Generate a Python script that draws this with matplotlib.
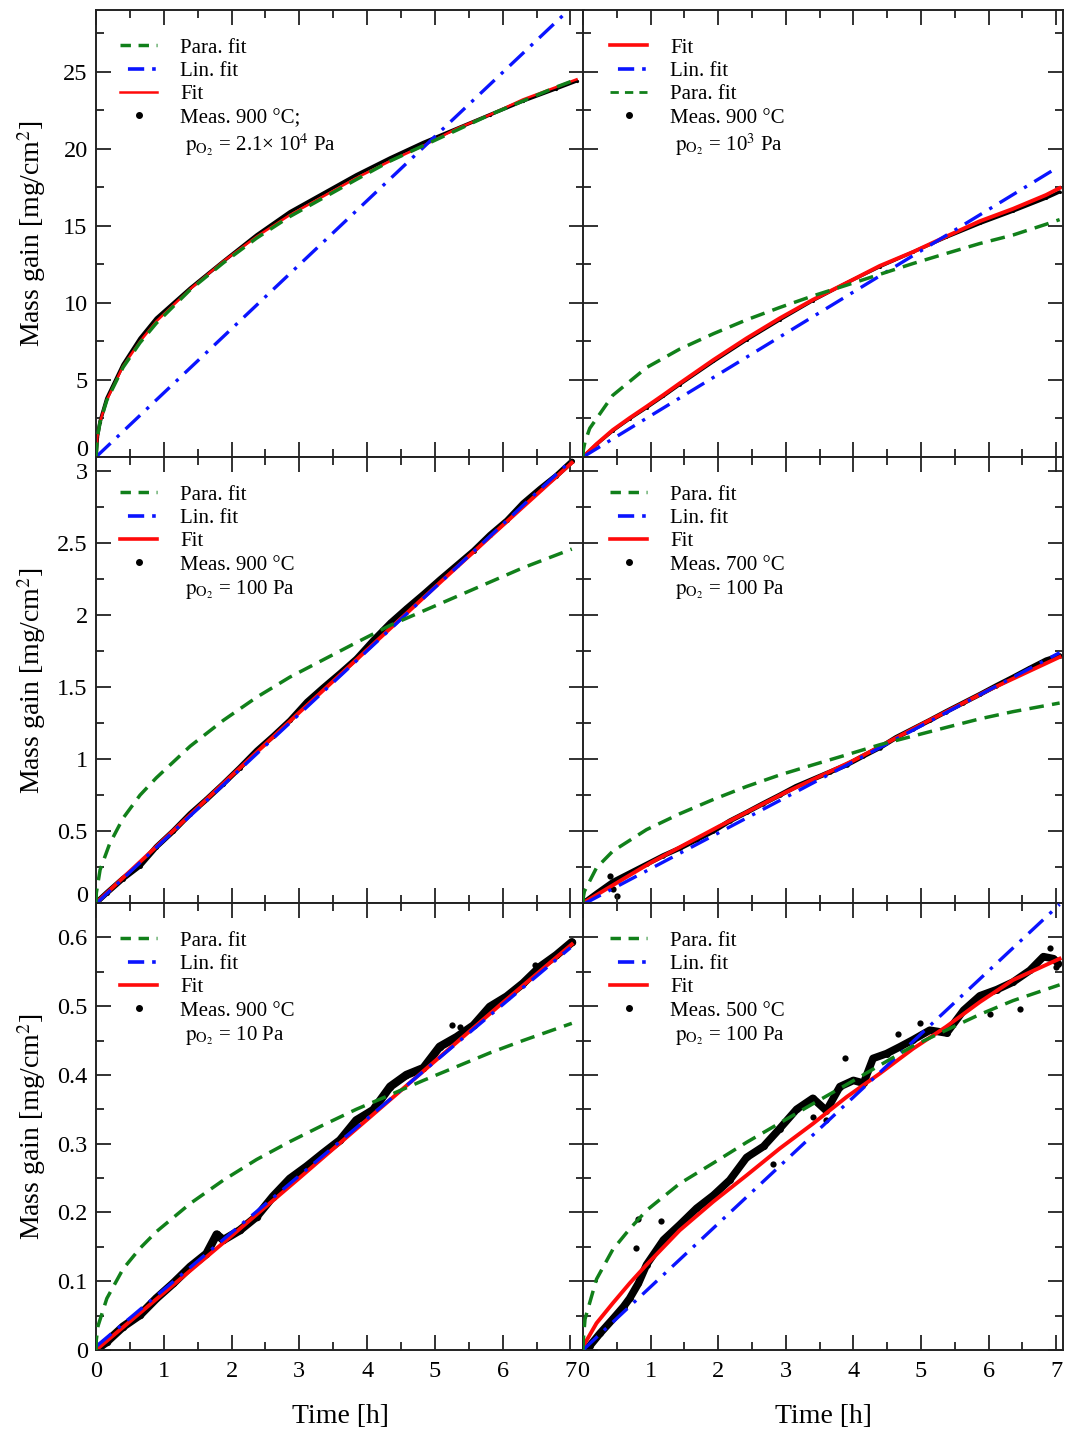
import numpy as np
import matplotlib
matplotlib.use('Agg')
import matplotlib.pyplot as plt
from matplotlib.lines import Line2D
from matplotlib.ticker import MultipleLocator, FuncFormatter

plt.rcParams['font.family'] = ['Liberation Serif', 'DejaVu Serif']
plt.rcParams['mathtext.fontset'] = 'stix'

# ---- panel A: 900 C, pO2 = 2.1e4 Pa (top left)
t_a = [0, 0.02, 0.06, 0.16, 0.4, 0.65, 0.89, 1.39, 1.88, 2.37, 2.86, 3.35,
       3.84, 4.34, 4.83, 5.32, 5.81, 6.30, 6.79, 7.09]
meas_a = [0, 1.3, 2.3, 3.8, 6.0, 7.7, 9.0, 10.95, 12.7, 14.4, 15.9, 17.1,
          18.3, 19.4, 20.4, 21.3, 22.2, 23.1, 23.9, 24.4]
fit_a = [0, 1.3, 2.3, 3.7, 5.9, 7.5, 8.8, 10.9, 12.7, 14.3, 15.7, 16.9,
         18.1, 19.2, 20.2, 21.3, 22.2, 23.2, 24.0, 24.5]
para_a = [0, 1.3, 2.25, 3.68, 5.82, 7.42, 8.68, 10.85, 12.6, 14.2, 15.6, 16.8,
          18.0, 19.2, 20.2, 21.2, 22.2, 23.1, 24.0, 24.5]
lin_t_a = [0, 6.95]
lin_a = [0, 28.9]

# ---- panel B: 900 C, pO2 = 1e3 Pa (top right)
t_b = [0, 0.2, 0.44, 0.69, 0.94, 1.19, 1.43, 1.93, 2.42, 2.91, 3.40, 3.90,
       4.39, 4.88, 5.37, 5.87, 6.36, 6.85, 7.05]
meas_b = [0, 0.82, 1.7, 2.48, 3.2, 3.95, 4.7, 6.2, 7.6, 8.9, 10.15, 11.3,
          12.35, 13.3, 14.25, 15.15, 15.95, 16.8, 17.2]
fit_b = [0, 0.84, 1.75, 2.53, 3.27, 4.03, 4.78, 6.3, 7.7, 9.0, 10.2, 11.3,
         12.4, 13.3, 14.3, 15.3, 16.1, 17.0, 17.45]
para_t_b = [0, 0.005, 0.03, 0.1, 0.44, 0.94, 1.43, 1.93, 2.42, 2.91, 3.40,
            3.90, 4.39, 4.88, 5.37, 5.87, 6.36, 6.85, 7.05]
para_b = [0, 0.45, 1.0, 1.86, 4.0, 5.8, 7.0, 8.0, 8.9, 9.7, 10.45, 11.15,
          11.85, 12.55, 13.2, 13.85, 14.4, 15.1, 15.4]
lin_t_b = [0, 6.95]
lin_b = [0, 18.6]

# ---- panel C: 900 C, pO2 = 100 Pa (middle left)
t_c = [0, 0.16, 0.4, 0.65, 0.89, 1.14, 1.39, 1.63, 1.88, 2.12, 2.37, 2.61,
       2.86, 3.11, 3.35, 3.6, 3.84, 4.09, 4.34, 4.58, 4.83, 5.07, 5.32, 5.57,
       5.81, 6.06, 6.30, 6.55, 6.79, 7.02]
meas_c = [0, 0.07, 0.17, 0.26, 0.39, 0.50, 0.62, 0.72, 0.83, 0.94, 1.06, 1.16,
          1.27, 1.40, 1.50, 1.60, 1.70, 1.83, 1.95, 2.05, 2.15, 2.25, 2.35,
          2.45, 2.56, 2.66, 2.78, 2.88, 2.97, 3.07]
fit_t_c = [0, 1, 2, 3, 4, 5, 6, 7.02]
fit_c = [0, 0.44, 0.885, 1.325, 1.76, 2.195, 2.625, 3.06]
para_t_c = [0, 0.005, 0.06, 0.2, 0.4, 0.65, 0.89, 1.39, 1.88, 2.37, 2.86,
            3.35, 3.84, 4.34, 4.83, 5.32, 5.81, 6.30, 7.02]
para_c = [0, 0.07, 0.23, 0.41, 0.59, 0.75, 0.87, 1.09, 1.27, 1.43, 1.57,
          1.69, 1.81, 1.93, 2.03, 2.13, 2.23, 2.33, 2.46]
lin_t_c = [0, 7.02]
lin_c = [-0.005, 3.08]

# ---- panel D: 700 C, pO2 = 100 Pa (middle right)
t_d = [0, 0.2, 0.44, 0.69, 0.94, 1.19, 1.43, 1.68, 1.93, 2.17, 2.42, 2.66,
       2.91, 3.15, 3.40, 3.65, 3.90, 4.14, 4.39, 4.63, 4.88, 5.13, 5.37, 5.62,
       5.87, 6.11, 6.36, 6.60, 6.85, 7.05]
meas_d = [0, 0.07, 0.15, 0.21, 0.27, 0.33, 0.38, 0.44, 0.50, 0.57, 0.63, 0.69,
          0.75, 0.81, 0.86, 0.91, 0.96, 1.02, 1.08, 1.15, 1.21, 1.27, 1.33,
          1.39, 1.45, 1.51, 1.57, 1.63, 1.69, 1.72]
out_t_d = [0.40, 0.42, 0.45, 0.50]
out_d = [0.19, 0.13, 0.10, 0.05]
fit_t_d = [0, 1, 2, 3, 4, 5, 6, 7.05]
fit_d = [0, 0.28, 0.53, 0.77, 0.99, 1.24, 1.48, 1.71]
para_t_d = [0, 0.005, 0.02, 0.2, 0.44, 0.94, 1.43, 1.93, 2.42, 2.91, 3.40,
            3.90, 4.39, 4.88, 5.37, 5.87, 6.36, 7.05]
para_d = [0, 0.04, 0.08, 0.245, 0.36, 0.51, 0.62, 0.72, 0.81, 0.89, 0.96,
          1.03, 1.10, 1.16, 1.22, 1.28, 1.33, 1.39]
lin_t_d = [0, 7.05]
lin_d = [-0.01, 1.74]

# ---- panel E: 900 C, pO2 = 10 Pa (bottom left)
t_e = [0, 0.16, 0.4, 0.65, 0.89, 1.14, 1.39, 1.63, 1.78, 1.88, 2.12, 2.37,
       2.61, 2.86, 3.11, 3.35, 3.6, 3.84, 4.09, 4.34, 4.58, 4.83, 5.07, 5.32,
       5.57, 5.81, 6.06, 6.30, 6.55, 6.79, 7.02]
meas_e = [0, 0.012, 0.034, 0.051, 0.075, 0.097, 0.121, 0.140, 0.168, 0.160,
          0.174, 0.194, 0.223, 0.249, 0.267, 0.286, 0.305, 0.334, 0.349,
          0.383, 0.40, 0.41, 0.441, 0.455, 0.472, 0.499, 0.514, 0.533, 0.557,
          0.574, 0.593]
out_t_e = [5.25, 5.37, 6.48]
out_e = [0.472, 0.47, 0.56]
fit_t_e = [0, 1, 2, 3, 4, 5, 6, 7.02]
fit_e = [0, 0.083, 0.166, 0.25, 0.335, 0.42, 0.505, 0.59]
para_t_e = [0, 0.005, 0.03, 0.16, 0.4, 0.65, 0.89, 1.39, 1.88, 2.37, 2.86,
            3.35, 3.84, 4.34, 4.83, 5.32, 5.81, 6.30, 7.02]
para_e = [0, 0.015, 0.035, 0.075, 0.118, 0.148, 0.172, 0.213, 0.247, 0.277,
          0.303, 0.327, 0.350, 0.371, 0.392, 0.412, 0.432, 0.450, 0.475]
lin_t_e = [0, 7.0]
lin_e = [0.005, 0.585]

# ---- panel F: 500 C, pO2 = 100 Pa (bottom right)
t_f = [0, 0.1, 0.25, 0.45, 0.6, 0.69, 0.82, 0.94, 1.19, 1.43, 1.68, 1.93,
       2.17, 2.42, 2.67, 2.91, 3.16, 3.40, 3.60, 3.80, 4.0, 4.15, 4.29, 4.49,
       4.69, 4.88, 5.13, 5.38, 5.63, 5.87, 6.12, 6.36, 6.61, 6.81, 6.96, 7.03]
meas_f = [0, 0.006, 0.024, 0.046, 0.063, 0.075, 0.097, 0.124, 0.160, 0.182,
          0.206, 0.225, 0.247, 0.280, 0.296, 0.322, 0.350, 0.366, 0.348,
          0.383, 0.392, 0.388, 0.424, 0.431, 0.441, 0.451, 0.465, 0.461,
          0.494, 0.515, 0.524, 0.535, 0.552, 0.572, 0.569, 0.562]
out_t_f = [0.82, 0.79, 1.16, 2.81, 3.40, 3.60, 3.87, 4.66, 4.98, 6.02, 6.46,
           6.91, 7.0]
out_f = [0.191, 0.148, 0.187, 0.27, 0.339, 0.335, 0.424, 0.460, 0.475, 0.489,
         0.496, 0.584, 0.557]
fit_t_f = [0, 0.03, 0.2, 0.44, 0.69, 0.94, 1.43, 1.93, 2.42, 2.91, 3.40,
           3.90, 4.39, 4.88, 5.37, 5.87, 6.36, 7.05]
fit_f = [0, 0.01, 0.039, 0.068, 0.097, 0.124, 0.174, 0.216, 0.254, 0.293,
         0.329, 0.368, 0.402, 0.438, 0.470, 0.506, 0.538, 0.569]
para_t_f = [0, 0.005, 0.03, 0.2, 0.44, 0.69, 0.94, 1.43, 1.93, 2.42, 2.91,
            3.40, 3.90, 4.39, 4.88, 5.37, 5.87, 6.36, 7.05]
para_f = [0, 0.015, 0.045, 0.103, 0.146, 0.176, 0.203, 0.242, 0.272, 0.302,
          0.330, 0.358, 0.386, 0.414, 0.442, 0.465, 0.488, 0.508, 0.531]
lin_t_f = [0, 7.05]
lin_f = [0, 0.648]

# legend captions
pO2_a = r'$\mathrm{p}_{\mathrm{O}_2}$ = 2.1× 10$^4$ Pa'
pO2_b = r'$\mathrm{p}_{\mathrm{O}_2}$ = 10$^3$ Pa'
pO2_100 = r'$\mathrm{p}_{\mathrm{O}_2}$ = 100 Pa'
pO2_10 = r'$\mathrm{p}_{\mathrm{O}_2}$ = 10 Pa'

GREEN = '#11801a'
BLUE = '#0a14ff'
RED = '#ff0a0a'
PARA_LS = (0, (4.2, 2.4))
LIN_LS = (0, (6.0, 2.6, 1.0, 2.6))
TICK_FS = 17.5

fig = plt.figure(figsize=(10.65, 14.30), dpi=100)

W, H = 1065.0, 1430.0
def place(x0, x1, y0, y1):
    return [x0 / W, 1 - y1 / H, (x1 - x0) / W, (y1 - y0) / H]

ax_a = fig.add_axes(place(96, 584, 10, 457))
ax_b = fig.add_axes(place(583, 1063, 10, 457))
ax_c = fig.add_axes(place(96, 584, 457, 903))
ax_d = fig.add_axes(place(583, 1063, 457, 903))
ax_e = fig.add_axes(place(96, 584, 903, 1350))
ax_f = fig.add_axes(place(583, 1063, 903, 1350))


def fmt(v, pos):
    return '%g' % v


def fmt_nozero(v, pos):
    # zero is drawn separately, a bit higher, so it clears the panel below
    return '' if abs(v) < 1e-9 else '%g' % v


def style(ax, xmax, ylim, ymaj, ymin, xlabels, ylabels, lift_zero=False):
    ax.set_xlim(0, xmax)
    ax.set_ylim(*ylim)
    ax.xaxis.set_major_locator(MultipleLocator(1))
    ax.xaxis.set_minor_locator(MultipleLocator(0.5))
    ax.yaxis.set_major_locator(MultipleLocator(ymaj))
    ax.yaxis.set_minor_locator(MultipleLocator(ymin))
    ax.yaxis.set_major_formatter(FuncFormatter(fmt_nozero if lift_zero else fmt))
    ax.tick_params(which='both', direction='in', top=True, right=True,
                   width=1.3, color='#222222', labelsize=TICK_FS)
    ax.tick_params(which='major', length=11)
    ax.tick_params(which='minor', length=5.5)
    ax.tick_params(axis='x', pad=8)
    ax.tick_params(axis='y', pad=6)
    for s in ax.spines.values():
        s.set_linewidth(1.4)
        s.set_color('#222222')
    if not xlabels:
        ax.tick_params(axis='x', labelbottom=False)
    else:
        ax.set_xlabel('Time [h]', fontsize=20)
        ax.xaxis.set_label_coords(0.5, -0.12)
    if not ylabels:
        ax.tick_params(axis='y', labelleft=False)
    else:
        ax.set_ylabel('Mass gain [mg/cm$^2$]', fontsize=20)
        ax.yaxis.set_label_coords(-0.098, 0.5)
    if lift_zero:
        ax.annotate('0', xy=(0, 0), xycoords=('axes fraction', 'data'),
                    xytext=(-6, 5), textcoords='offset points',
                    ha='right', va='center', fontsize=TICK_FS)


def draw(ax, t, meas, fit_t, fit, para_t, para, lin_t, lin, band, fit_lw,
         out_t=None, out=None):
    ax.plot(t, meas, color='black', lw=band, solid_capstyle='round',
            solid_joinstyle='round', zorder=1)
    ax.plot(t, meas, 'o', color='black', ms=band * 0.9, mew=0, zorder=1)
    if out_t is not None:
        ax.plot(out_t, out, 'o', color='black', ms=4.5, mew=0, zorder=1)
    ax.plot(fit_t, fit, color=RED, lw=fit_lw, zorder=2)
    ax.plot(lin_t, lin, color=BLUE, lw=2.4, ls=LIN_LS, zorder=3)
    ax.plot(para_t, para, color=GREEN, lw=2.5, ls=PARA_LS, zorder=4)


def add_legend(ax, order, meas_text, pO2_text, x0, fit_lw=2.6, para_lw=2.5):
    h = {
        'para': Line2D([], [], color=GREEN, lw=para_lw, ls=(0, (3.0, 2.2))),
        'lin': Line2D([], [], color=BLUE, lw=2.6, ls=(1.0, (1.0, 2.2, 4.5, 2.2))),
        'fit': Line2D([], [], color=RED, lw=fit_lw),
    }
    names = {'para': 'Para. fit', 'lin': 'Lin. fit', 'fit': 'Fit'}
    handles = [h[k] for k in order]
    labels = [names[k] for k in order]
    handles.append(Line2D([], [], ls='none', marker='o', color='black', ms=4))
    labels.append(meas_text)
    handles.append(Line2D([], [], ls='none'))
    labels.append(' ' + pO2_text)
    ax.legend(handles, labels, loc='upper left', bbox_to_anchor=(x0, 0.937),
              frameon=False, fontsize=15, handlelength=1.8, handletextpad=1.1,
              labelspacing=0.18, borderaxespad=0, borderpad=0)


style(ax_a, 7.2, (0, 29.0), 5, 2.5, False, True, lift_zero=True)
style(ax_b, 7.1, (0, 29.0), 5, 2.5, False, False)
style(ax_c, 7.2, (0, 3.1), 0.5, 0.25, False, True, lift_zero=True)
style(ax_d, 7.1, (0, 3.1), 0.5, 0.25, False, False)
style(ax_e, 7.2, (0, 0.65), 0.1, 0.05, True, True)
style(ax_f, 7.1, (0, 0.65), 0.1, 0.05, True, False)

draw(ax_a, t_a, meas_a, t_a, fit_a, t_a, para_a, lin_t_a, lin_a, 2.6, 1.8)
draw(ax_b, t_b, meas_b, t_b, fit_b, para_t_b, para_b, lin_t_b, lin_b, 2.4, 2.8)
draw(ax_c, t_c, meas_c, fit_t_c, fit_c, para_t_c, para_c, lin_t_c, lin_c, 4.0, 2.8)
draw(ax_d, t_d, meas_d, fit_t_d, fit_d, para_t_d, para_d, lin_t_d, lin_d, 3.6, 2.8,
     out_t_d, out_d)
draw(ax_e, t_e, meas_e, fit_t_e, fit_e, para_t_e, para_e, lin_t_e, lin_e, 6.0, 2.8,
     out_t_e, out_e)
draw(ax_f, t_f, meas_f, fit_t_f, fit_f, para_t_f, para_f, lin_t_f, lin_f, 5.5, 2.8,
     out_t_f, out_f)

add_legend(ax_a, ['para', 'lin', 'fit'], 'Meas. 900 °C;', pO2_a, 0.049, fit_lw=1.8)
add_legend(ax_b, ['fit', 'lin', 'para'], 'Meas. 900 °C', pO2_b, 0.056, para_lw=2.0)
add_legend(ax_c, ['para', 'lin', 'fit'], 'Meas. 900 °C', pO2_100, 0.049)
add_legend(ax_d, ['para', 'lin', 'fit'], 'Meas. 700 °C', pO2_100, 0.056)
add_legend(ax_e, ['para', 'lin', 'fit'], 'Meas. 900 °C', pO2_10, 0.049)
add_legend(ax_f, ['para', 'lin', 'fit'], 'Meas. 500 °C', pO2_100, 0.056)

fig.savefig('out.png', dpi=100)
